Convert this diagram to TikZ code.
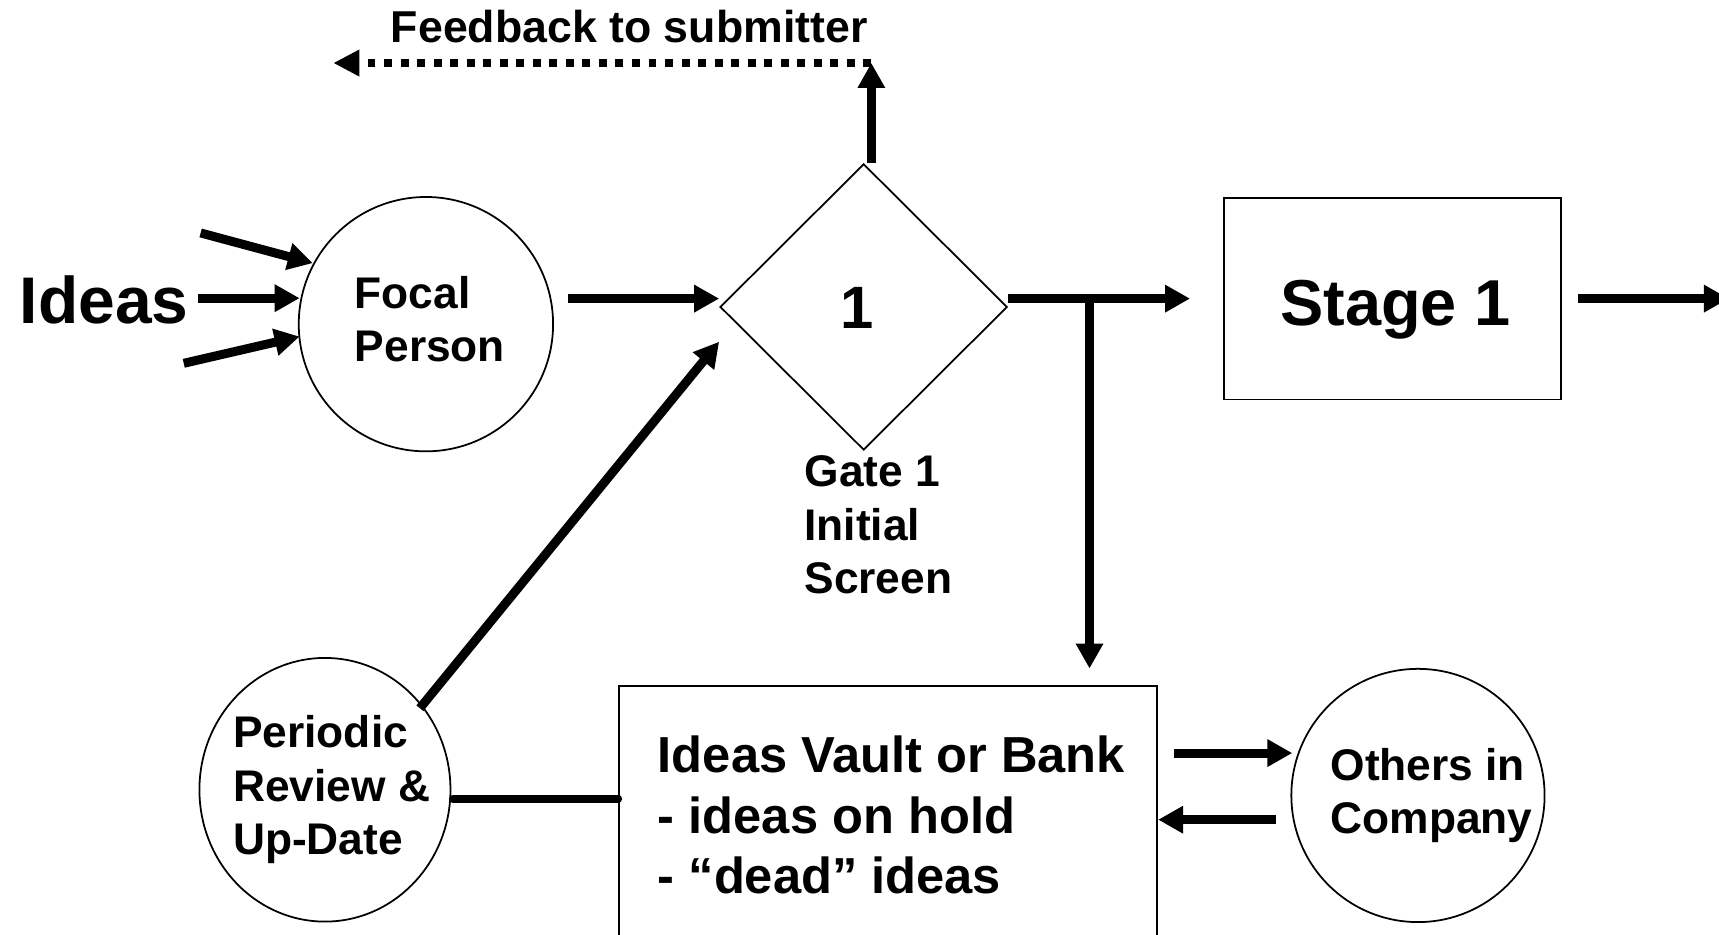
\documentclass[tikz,border=0pt]{standalone}
\usepackage{fontspec}
\setmainfont{Liberation Sans}
\usetikzlibrary{arrows.meta,shapes.geometric,calc}
\def\pxu{0.010963cm}
\begin{document}
\begin{tikzpicture}[x=0.010963cm,y=-0.010963cm,
  outline/.style={draw, line width=0.5pt, inner sep=0pt},
  circ/.style={outline, circle, minimum size=#1*\pxu},
  txt/.style={inner sep=0pt, font=\fontsize{12.6}{15.2}\selectfont\bfseries},
  vtxt/.style={inner sep=0pt, font=\fontsize{14.4}{17.1}\selectfont\bfseries},
  btxt/.style={inner sep=0pt, font=\fontsize{18.75}{23}\selectfont\bfseries},
  stxt/.style={inner sep=0pt, font=\fontsize{18.45}{23}\selectfont\bfseries},
  onetxt/.style={inner sep=0pt, font=\fontsize{17}{20}\selectfont\bfseries},
  arr/.style={line width=2.55pt, -{Triangle[length=7.1pt,width=7.4pt]}},
  plainbar/.style={line width=2.3pt, line cap=round},
  dotline/.style={line width=2.1pt, dash pattern=on 2.25pt off 2.45pt, -{Triangle[length=7.4pt,width=7.1pt]}}
]
\useasboundingbox (0,0) rectangle (1568,852);
\fill[white] (0,0) rectangle (1568,852);
\clip (0,0) rectangle (1568,852);

% shapes
\node[circ=232] (focal) at (388.5,295.7) {};
\node[outline, ellipse, minimum width=229*\pxu, minimum height=240.5*\pxu] (periodic) at (296.4,720.4) {};
\node[circ=231] (others) at (1293.4,725.6) {};
\node[outline, diamond, minimum width=262*\pxu, minimum height=261*\pxu] (dia) at (787.8,280) {};
\node[outline, rectangle, minimum width=307.5*\pxu, minimum height=184*\pxu] (stage) at (1270.25,272.4) {};
\node[outline, rectangle, minimum width=490.5*\pxu, minimum height=300*\pxu] (vault) at (809.85,775.6) {};

% texts
\node[txt, anchor=base, font=\fontsize{12.7}{15.2}\selectfont\bfseries] (fbtxt) at (573.9,39) {Feedback to submitter};
\node[btxt, anchor=base west] (ideas) at (17.5,295.5) {Ideas};
\node[txt, anchor=base west] (focaltxt) at (323,281) {\vtop{\hbox{Focal}\hbox{Person}}};
\node[onetxt, anchor=base] (gatenum) at (781.5,299.5) {1};
\node[txt, anchor=base west] (gatetxt) at (733.2,444) {\vtop{\hbox{Gate 1}\hbox{Initial}\hbox{Screen}}};
\node[stxt, anchor=base] (stagetxt) at (1273,296.5) {Stage 1};
\node[txt, anchor=base west] (pertxt) at (212,682) {\vtop{\hbox{Periodic}\hbox{Review \&}\hbox{Up-Date}}};
\node[vtxt, anchor=base west] (vaulttxt) at (599.4,705) {\vtop{\hbox{Ideas Vault or Bank}\hbox{- ideas on hold}\hbox{- “dead” ideas}}};
\node[txt, anchor=base west] (othtxt) at (1213,711.5) {\vtop{\hbox{Others in}\hbox{Company}}};

% inputs to focal person
\coordinate (in1) at (183,212.5);
\coordinate (in3) at (167.6,331.4);
\draw[arr] (in1) -- ($(focal.center)+(-103.1,-55.7)$);
\path ($(focal.center)+(-115.2,-23.7)$) coordinate (tipm);
\draw[arr] ($(ideas.east |- tipm)+(8,0)$) -- (tipm);
\draw[arr] (in3) -- ($(focal.center)+(-115.2,11.3)$);

% main line
\path ($(dia.west)+(0,-7.6)$) coordinate (gl);
\draw[arr] ($(focal.center |- gl)+(130,0)$) -- (gl);
\path ($(dia.east)+(0,-7.6)$) coordinate (gr);
\draw[arr] (gr) -- ($(stage.west |- gr)+(-30.2,0)$);
\coordinate (exitR) at (1577,272.4);
\draw[arr] ($(stage.east)+(14.7,0)$) -- (exitR);

% branch down to vault
\coordinate (junc) at (993.8,272.4);
\draw[arr] (junc) -- ($(junc |- vault.north)+(0,-15)$);

% feedback
\coordinate (fbc) at (794.8,57.5);
\draw[arr] ($(dia.north)+(7,0)$) -- (fbc);
\coordinate (fbend) at (304,57.5);
\draw[dotline] (fbc) -- (fbend);

% periodic review
\draw[arr] ($(periodic.center)+(86.6,-74.4)$) -- ($(dia.west)+(0,31.7)$);
\draw[plainbar] ($(periodic.east)+(1.5,8.1)$) coordinate (pv) -- (pv -| vault.west);

% vault <-> others
\path ($(others.center)+(-114.6,-38.7)$) coordinate (vot);
\draw[arr] ($(vault.east |- vot)+(15,0)$) -- (vot);
\path ($(others.center)+(-129.8,22.1)$) coordinate (ovs);
\draw[arr] (ovs) -- ($(vault.east |- ovs)+(0.5,0)$);
\end{tikzpicture}
\end{document}
